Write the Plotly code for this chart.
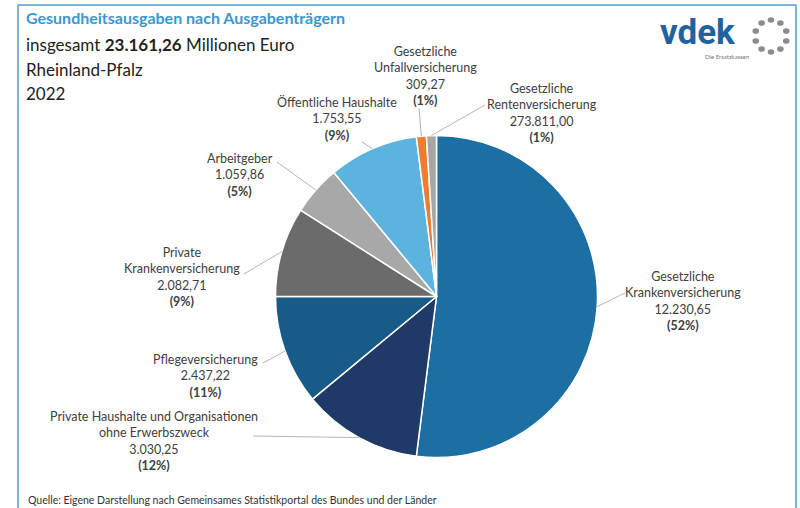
import math
import plotly.graph_objects as go

# Ausgabenträger, im Uhrzeigersinn ab 12 Uhr
traeger = ['Gesetzliche<br>Krankenversicherung',
           'Private Haushalte und Organisationen<br>ohne Erwerbszweck',
           'Pflegeversicherung',
           'Private<br>Krankenversicherung',
           'Arbeitgeber',
           'Öffentliche Haushalte',
           'Gesetzliche<br>Unfallversicherung',
           'Gesetzliche<br>Rentenversicherung']
betraege = ['12.230,65', '3.030,25', '2.437,22', '2.082,71', '1.059,86', '1.753,55', '309,27', '273.811,00']
anteile = [52, 12, 11, 9, 5, 9, 1, 1]

farben = ['#1b6fa3', '#1f3a66', '#185b89', '#6b6b6b', '#a8a8a8', '#5cb3df', '#ee7d31', '#a6a6a6']

# Geometrie (Pixel) des Kreises
W, H = 800, 508
CX, CY, R = 436.5, 296.5, 161

# Beschriftungen: Mittelpunkt des Textblocks und Startpunkt der Hinweislinie
label_pos = [(683, 301), (154, 441), (205, 376), (182, 277), (240, 175), (337, 118), (425, 76), (542, 113)]
line_start = [(625, 293), (253, 436), (263, 363), (244, 274), (277, 162), (362, 142), (419, 108), (485, 105)]

FONT = 'Lato'
TXT = '#404040'

fig = go.Figure()
fig.add_trace(go.Pie(
    values=anteile, labels=[t.replace('<br>', ' ') for t in traeger],
    sort=False, direction='clockwise', rotation=0,
    marker=dict(colors=farben, line=dict(color='white', width=1.5)),
    textinfo='none', hoverinfo='label+percent', showlegend=False,
    domain=dict(x=[(CX - R) / W, (CX + R) / W], y=[(H - CY - R) / H, (H - CY + R) / H]),
))

shapes = []
annotations = []
total = sum(anteile)
cum = 0
for i, a in enumerate(anteile):
    mid = (cum + a / 2) / total * 2 * math.pi
    cum += a
    ex = CX + R * math.sin(mid)
    ey = CY - R * math.cos(mid)
    sx, sy = line_start[i]
    shapes.append(dict(type='line', xref='x', yref='y', x0=sx, y0=sy, x1=ex, y1=ey,
                       line=dict(color='#b5b5b5', width=1)))
    lx, ly = label_pos[i]
    annotations.append(dict(
        x=lx, y=ly, xref='x', yref='y', showarrow=False, align='center',
        text=f'{traeger[i]}<br>{betraege[i]}<br><b>({a}%)</b>',
        font=dict(family=FONT, size=12.5, color=TXT)))

# Rahmen
shapes.append(dict(type='rect', xref='x', yref='y', x0=18, y0=5, x1=796, y1=520,
                   line=dict(color='#4f9fd4', width=1.5)))

# Logo-Punkte
for k in range(10):
    ang = k * 2 * math.pi / 10
    px_ = 771 + 16 * math.sin(ang)
    py_ = 36 - 16 * math.cos(ang)
    shapes.append(dict(type='circle', xref='x', yref='y', x0=px_ - 3.3, x1=px_ + 3.3, y0=py_ - 2.8, y1=py_ + 2.8,
                       fillcolor='#8c8c8c', line=dict(width=0)))

annotations += [
    dict(x=24, y=17, text='<b>Gesundheitsausgaben nach Ausgabenträgern</b>',
         font=dict(family=FONT, size=16, color='#3a97d0')),
    dict(x=24, y=44, text='insgesamt <b>23.161,26</b> Millionen Euro',
         font=dict(family=FONT, size=17, color='#222222')),
    dict(x=24, y=69, text='Rheinland-Pfalz', font=dict(family=FONT, size=17, color='#222222')),
    dict(x=24, y=93, text='2022', font=dict(family=FONT, size=17, color='#222222')),
    dict(x=658, y=32, text='<b>vdek</b>', font=dict(family='Roboto', size=35, color='#1f63a0')),
    dict(x=703, y=56, text='Die Ersatzkassen', font=dict(family=FONT, size=6, color='#777777')),
    dict(x=26, y=500, text='Quelle: Eigene Darstellung nach Gemeinsames Statistikportal des Bundes und der Länder',
         font=dict(family=FONT, size=10.5, color='#333333')),
]
for a in annotations[-7:]:
    a.update(xref='x', yref='y', xanchor='left', showarrow=False)

fig.update_layout(
    width=W, height=H, margin=dict(l=0, r=0, t=0, b=0),
    paper_bgcolor='white', plot_bgcolor='white',
    xaxis=dict(range=[0, W], visible=False, fixedrange=True),
    yaxis=dict(range=[H, 0], visible=False, fixedrange=True),
    shapes=shapes, annotations=annotations,
)
fig.write_html('out.html', config={'displayModeBar': False},
               post_script="document.body.style.margin='0';document.body.style.overflow='hidden';")
